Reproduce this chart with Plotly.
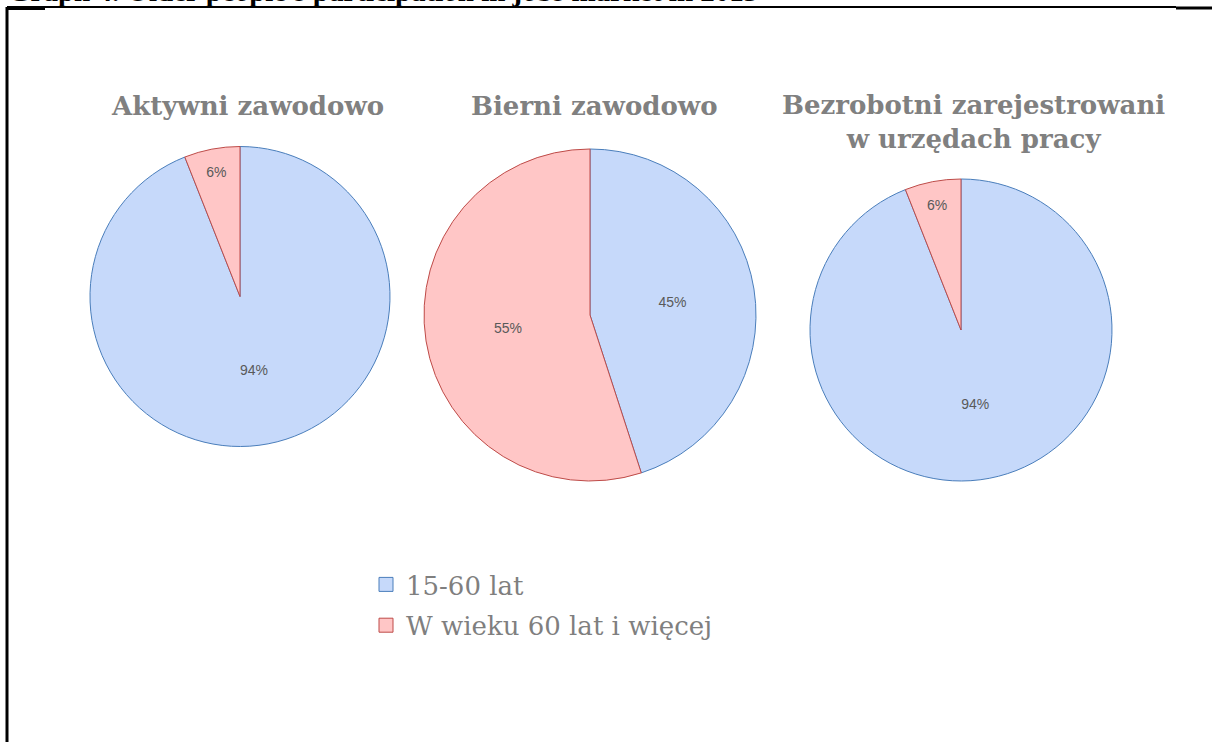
import plotly.graph_objects as go

labels = ["15-60 lat", "W wieku 60 lat i więcej"]
titles = ["Aktywni zawodowo", "Bierni zawodowo", "Bezrobotni zarejestrowani<br>w urzędach pracy"]
aktywni = [94, 6]
bierni = [45, 55]
bezrobotni = [94, 6]
heading = "Graph 4. Older people's participation in jobs market in 2013"

W, H = 1212, 742
fill = ["#c6d9fa", "#ffc6c6"]
edge = ["#4a7ebb", "#be4b48"]


def px(x):
    return x / W


def py(y):
    return 1 - y / H


# pie boxes in pixels: left, right, top, bottom
boxes = [(90, 390, 146, 447), (424, 756, 149, 481), (810, 1112, 179, 481)]

fig = go.Figure()
for vals, (l, r, t, b) in zip([aktywni, bierni, bezrobotni], boxes):
    fig.add_trace(go.Pie(
        labels=labels,
        values=vals,
        sort=False,
        direction="clockwise",
        rotation=0,
        domain=dict(x=[px(l), px(r)], y=[py(b), py(t)]),
        marker=dict(colors=fill, line=dict(color=edge, width=1)),
        texttemplate="%{percent:.0%}",
        textposition="inside",
        insidetextorientation="horizontal",
        textfont=dict(family="Liberation Sans", size=14, color="#595959"),
        showlegend=False,
        hoverinfo="label+percent",
    ))

# legend entries
for lab, f, e in zip(labels, fill, edge):
    fig.add_trace(go.Scatter(
        x=[None], y=[None], mode="markers", name=lab, legendgroup=lab,
        marker=dict(symbol="square", size=14, color=f, line=dict(color=e, width=1)),
    ))

title_pos = [(247, 106), (594, 106), (973, 122)]
for txt, (x, y) in zip(titles, title_pos):
    fig.add_annotation(
        text=f"<b>{txt}</b>", x=px(x), y=py(y), xref="paper", yref="paper",
        showarrow=False, xanchor="center", yanchor="middle",
        font=dict(family="DejaVu Serif", size=26, color="#808080"),
    )

# heading of the page, mostly cut off at the top edge
fig.add_annotation(
    text=f"<b>{heading}</b>", x=px(6), y=py(9), xref="paper", yref="paper",
    showarrow=False, xanchor="left", yanchor="bottom",
    font=dict(family="Liberation Serif", size=29, color="black"),
)

fig.update_layout(
    width=W, height=H,
    margin=dict(l=0, r=0, t=0, b=0),
    paper_bgcolor="white", plot_bgcolor="white",
    xaxis=dict(visible=False), yaxis=dict(visible=False),
    legend=dict(
        x=px(366), y=py(561), xanchor="left", yanchor="top",
        font=dict(family="DejaVu Serif", size=26, color="#7f7f7f"),
        tracegroupgap=4, traceorder="grouped", bgcolor="rgba(0,0,0,0)",
    ),
    shapes=[
        dict(type="line", xref="paper", yref="paper", x0=px(7), x1=px(1176), y0=py(7), y1=py(7),
             line=dict(color="black", width=2)),
        dict(type="line", xref="paper", yref="paper", x0=px(1176), x1=1, y0=py(8), y1=py(8),
             line=dict(color="black", width=3)),
        dict(type="line", xref="paper", yref="paper", x0=px(7), x1=px(45), y0=py(9), y1=py(9),
             line=dict(color="black", width=2)),
        dict(type="line", xref="paper", yref="paper", x0=px(7), x1=px(7), y0=0, y1=py(7),
             line=dict(color="black", width=3)),
    ],
    uniformtext=dict(minsize=14, mode="show"),
)

fig.write_html(
    "out.html",
    config={"displayModeBar": False},
    post_script="document.body.style.margin='0';",
)
